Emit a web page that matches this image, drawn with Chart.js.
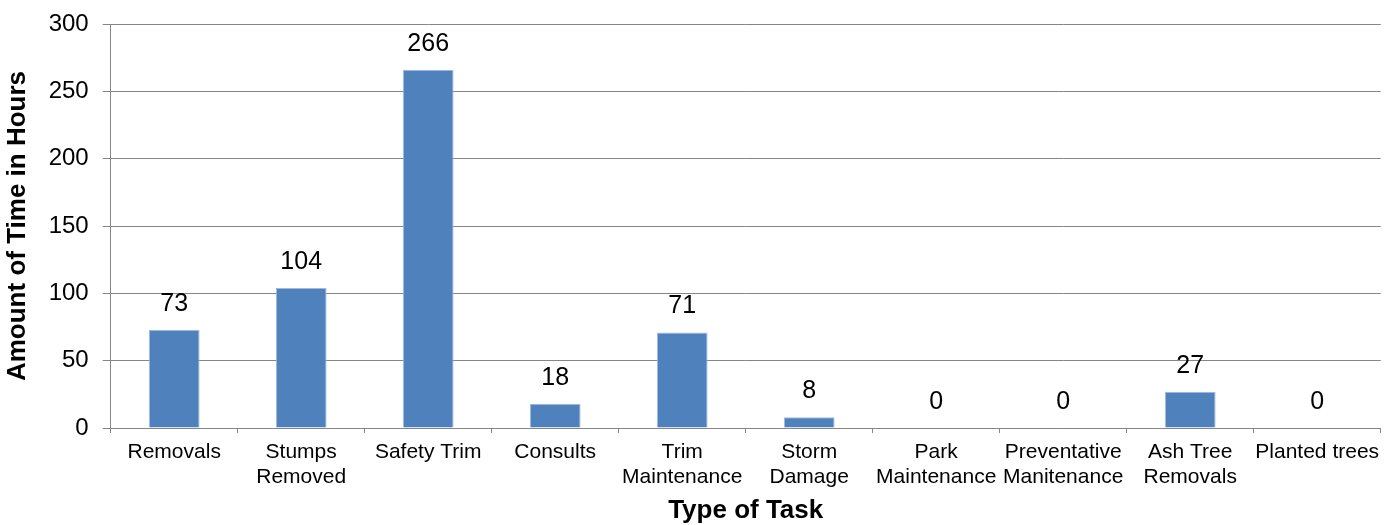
<!DOCTYPE html>
<html>
<head>
<meta charset="utf-8">
<script src="https://cdn.jsdelivr.net/npm/chart.js@4.4.1/dist/chart.umd.min.js"></script>
<style>
  html, body { margin: 0; padding: 0; background: #fff; }
  #chart-wrap { width: 1391px; height: 525px; }
</style>
</head>
<body>
<div id="chart-wrap"><canvas id="task-chart" width="1391" height="525"></canvas></div>
<script>
// --- Data ---
const taskNames = [
    'Removals',
    ['Stumps', 'Removed'],
    'Safety Trim',
    'Consults',
    ['Trim', 'Maintenance'],
    ['Storm', 'Damage'],
    ['Park', 'Maintenance'],
    ['Preventative', 'Manitenance'],
    ['Ash Tree', 'Removals'],
    'Planted trees'
];
const hours = [73, 104, 266, 18, 71, 8, 0, 0, 27, 0];
const yTicks = [0, 50, 100, 150, 200, 250, 300];

const fontFamily = '"Liberation Sans", Arial, sans-serif';
const axisGray = '#868686';

// draws the value above every bar, like the original data labels
const barValueLabels = {
    id: 'barValueLabels',
    afterDatasetsDraw(chart) {
        const ctx = chart.ctx;
        const meta = chart.getDatasetMeta(0);
        ctx.save();
        ctx.font = '25px ' + fontFamily;
        ctx.fillStyle = '#000';
        ctx.textAlign = 'center';
        ctx.textBaseline = 'middle';
        meta.data.forEach((bar, i) => {
            ctx.fillText(String(hours[i]), bar.x, bar.y - 26);
        });
        ctx.restore();
    }
};

const canvas = document.getElementById('task-chart');

new Chart(canvas, {
    type: 'bar',
    data: {
        labels: taskNames,
        datasets: [{
            label: 'Hours',
            data: hours,
            backgroundColor: '#4F81BD',
            borderColor: '#9fbbdf',
            borderWidth: 1,
            barPercentage: 0.4,
            categoryPercentage: 1.0
        }]
    },
    options: {
        responsive: false,
        animation: false,
        devicePixelRatio: 1,
        layout: { padding: { left: 0, right: 10.3, top: 24, bottom: 0 } },
        plugins: {
            legend: { display: false },
            tooltip: { enabled: false }
        },
        scales: {
            x: {
                offset: true,
                grid: {
                    offset: true,
                    drawOnChartArea: false,
                    drawTicks: true,
                    tickLength: 5,
                    color: axisGray
                },
                border: { display: true, color: axisGray, width: 1 },
                ticks: {
                    color: '#000',
                    padding: 7,
                    maxRotation: 0,
                    autoSkip: false,
                    font: { family: fontFamily, size: 21, lineHeight: '25px' }
                },
                title: {
                    display: true,
                    text: 'Type of Task',
                    color: '#000',
                    padding: { top: 0, bottom: 0 },
                    font: { family: fontFamily, size: 26, weight: 'bold', lineHeight: 1.1 }
                },
                afterFit(scale) { scale.height = 97; }
            },
            y: {
                min: 0,
                max: 300,
                afterBuildTicks(scale) {
                    scale.ticks = yTicks.map(v => ({ value: v }));
                },
                grid: {
                    color: axisGray,
                    lineWidth: 1,
                    drawTicks: true,
                    tickLength: 8
                },
                border: { display: true, color: axisGray, width: 1 },
                ticks: {
                    color: '#000',
                    padding: 14,
                    font: { family: fontFamily, size: 24 }
                },
                title: {
                    display: true,
                    text: 'Amount of Time in Hours',
                    color: '#000',
                    padding: { top: 4, bottom: 0 },
                    font: { family: fontFamily, size: 26, weight: 'bold', lineHeight: 1.1 }
                },
                afterFit(scale) {
                    scale.width = 110.7;
                    // let the layout padding alone decide where the plot starts
                    scale.paddingTop = 0;
                    scale.paddingBottom = 0;
                }
            }
        }
    },
    plugins: [barValueLabels]
});
</script>
</body>
</html>
